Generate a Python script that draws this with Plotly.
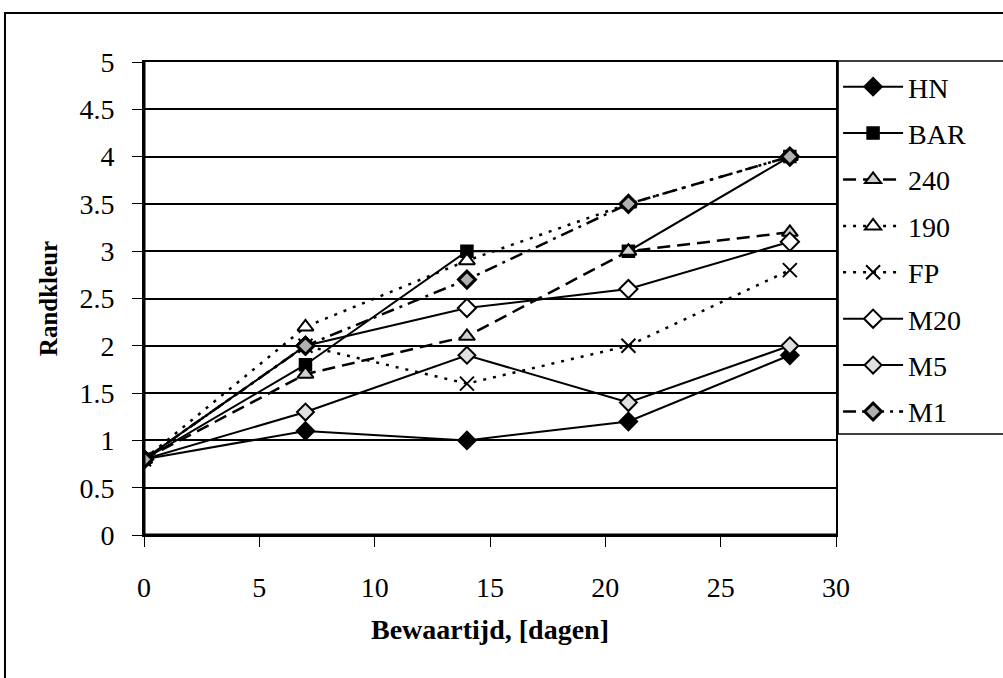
import plotly.graph_objects as go

days = [0, 7, 14, 21, 28]
series_names = ["HN", "BAR", "240", "190", "FP", "M20", "M5", "M1"]
HN = [0.8, 1.1, 1.0, 1.2, 1.9]
BAR = [0.8, 1.8, 3.0, 3.0, 4.0]
S240 = [0.8, 1.7, 2.1, 3.0, 3.2]
S190 = [0.8, 2.2, 2.9, 3.5, 4.0]
FP = [0.8, 2.0, 1.6, 2.0, 2.8]
M20 = [0.8, 2.0, 2.4, 2.6, 3.1]
M5 = [0.8, 1.3, 1.9, 1.4, 2.0]
M1 = [0.8, 2.0, 2.7, 3.5, 4.0]
values = [HN, BAR, S240, S190, FP, M20, M5, M1]

x_ticks = [0, 5, 10, 15, 20, 25, 30]
y_ticks = [0, 0.5, 1, 1.5, 2, 2.5, 3, 3.5, 4, 4.5, 5]
y_ticklabels = ["0", "0.5", "1", "1.5", "2", "2.5", "3", "3.5", "4", "4.5", "5"]

styles = {
    "HN": dict(dash="solid", lw_line=2, symbol="diamond", size=14, fill="black", lw=1.5),
    "BAR": dict(dash="solid", lw_line=2, symbol="square", size=12, fill="black", lw=1.5),
    "240": dict(dash="13px,7px", lw_line=2.5, symbol="triangle-up", size=14, fill="#d0d0d0", lw=2),
    "190": dict(dash="3px,7px", lw_line=2.5, symbol="triangle-up", size=14, fill="white", lw=2),
    "FP": dict(dash="3px,7px", lw_line=2.5, symbol="x-thin-open", size=14, fill="black", lw=2),
    "M20": dict(dash="solid", lw_line=2, symbol="diamond", size=14, fill="white", lw=2),
    "M5": dict(dash="solid", lw_line=2, symbol="diamond", size=13, fill="#e0e0e0", lw=2),
    "M1": dict(dash="13px,6px,3px,6px", lw_line=2.5, symbol="diamond", size=13, fill="#b0b0b0", lw=3),
}

fig = go.Figure()
for name, vals in zip(series_names, values):
    st = styles[name]
    fig.add_trace(go.Scatter(
        x=days, y=vals, name=name, mode="lines+markers",
        legendgroup=name,
        line=dict(color="black", width=st["lw_line"], dash=st["dash"]),
        marker=dict(symbol=st["symbol"], size=st["size"], color=st["fill"],
                    line=dict(color="black", width=st["lw"])),
    ))

font_family = "Liberation Serif, Times New Roman, serif"

fig.update_layout(
    width=1003, height=678,
    margin=dict(l=144, r=167, t=62, b=143),
    paper_bgcolor="white", plot_bgcolor="white",
    font=dict(family=font_family, size=28, color="black"),
    showlegend=True,
    legend=dict(
        x=1.003, y=1.0, xanchor="left", yanchor="top",
        font=dict(family=font_family, size=28, color="black"),
        bgcolor="rgba(0,0,0,0)", borderwidth=0,
        tracegroupgap=7, itemwidth=60,
    ),
    xaxis=dict(
        range=[0, 30], tickvals=x_ticks, ticktext=[str(v) for v in x_ticks],
        showgrid=False, zeroline=False,
        showline=True, linecolor="black", linewidth=2, mirror=True,
        ticks="outside", ticklen=10, tickcolor="black", tickwidth=1,
        ticklabelstandoff=16,
        title=dict(text="<b>Bewaartijd, [dagen]</b>", standoff=18,
                   font=dict(family=font_family, size=28)),
    ),
    yaxis=dict(
        range=[0, 5], tickvals=y_ticks, ticktext=y_ticklabels,
        showgrid=True, gridcolor="black", gridwidth=1.5, zeroline=False,
        showline=True, linecolor="black", linewidth=2, mirror=True,
        ticks="outside", ticklen=10, tickcolor="black", tickwidth=1,
        ticklabelstandoff=12,
        title=dict(text="<b>Randkleur</b>", standoff=15,
                   font=dict(family=font_family, size=25)),
    ),
    shapes=[
        # outer chart frame
        dict(type="rect", xref="paper", yref="paper",
             x0=-0.2009, x1=1.26, y0=-0.33, y1=1.1036,
             line=dict(color="black", width=2), fillcolor="rgba(0,0,0,0)", layer="below"),
        # legend box
        dict(type="rect", xref="paper", yref="paper",
             x0=1.003, x1=1.3, y0=0.2135, y1=1.002,
             line=dict(color="black", width=1.5), fillcolor="rgba(0,0,0,0)", layer="below"),
        # thicker left and bottom axes
        dict(type="line", xref="paper", yref="paper", x0=0, x1=0, y0=0, y1=1,
             line=dict(color="black", width=3)),
        dict(type="line", xref="paper", yref="paper", x0=0, x1=1, y0=0, y1=0,
             line=dict(color="black", width=3)),
    ],
)

fig.write_html("out.html")
